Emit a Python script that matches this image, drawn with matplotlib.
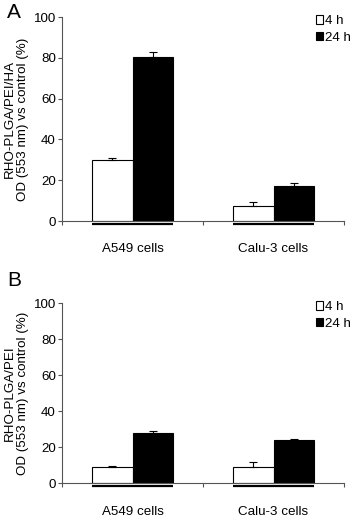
import matplotlib
matplotlib.use('Agg')
import matplotlib.pyplot as plt
import matplotlib.transforms as mtransforms
from matplotlib.patches import Patch
import numpy as np

plt.rcParams['font.family'] = ['Liberation Sans', 'DejaVu Sans']

###### Data ######
categories = ['A549 cells', 'Calu-3 cells']
series = ['4 h', '24 h']

a_4h = [30.0, 7.4]
a_4h_err = [1.0, 2.0]
a_24h = [80.5, 17.3]
a_24h_err = [2.2, 1.5]
a_ylabel = 'RHO-PLGA/PEI/HA\nOD (553 nm) vs control (%)'

b_4h = [9.0, 9.0]
b_4h_err = [0.8, 2.6]
b_24h = [28.0, 24.3]
b_24h_err = [0.9, 0.3]
b_ylabel = 'RHO-PLGA/PEI\nOD (553 nm) vs control (%)'

yticks = [0, 20, 40, 60, 80, 100]
##################

W, H = 358, 526
fig = plt.figure(figsize=(W / 100, H / 100), dpi=100)

FS = 9.6
width = 0.29


def panel(ax, v4, e4, v24, e24, ylabel, letter, letter_y, leg_y):
    x = np.arange(len(categories)) + 0.5
    ax.bar(x - width / 2, v4, width, color='white', edgecolor='black', linewidth=0.8)
    ax.bar(x + width / 2, v24, width, color='black', edgecolor='black', linewidth=0.8)
    ax.errorbar(x - width / 2, v4, yerr=[np.zeros(len(e4)), e4], fmt='none',
                ecolor='black', elinewidth=0.8, capsize=3.2, capthick=0.8)
    ax.errorbar(x + width / 2, v24, yerr=[np.zeros(len(e24)), e24], fmt='none',
                ecolor='black', elinewidth=0.8, capsize=3.2, capthick=0.8)

    # underline beneath each bar group
    trans = mtransforms.blended_transform_factory(ax.transData, ax.transAxes)
    off = mtransforms.ScaledTranslation(0, -3 / 100, fig.dpi_scale_trans)
    for xi in x:
        ax.plot([xi - width, xi + width], [0, 0], color='black', lw=1.6,
                transform=trans + off, clip_on=False, solid_capstyle='butt')

    ax.set_xlim(0, len(categories))
    ax.set_ylim(0, 100)
    ax.set_yticks(yticks)
    ax.set_xticks([0, 1, 2])
    ax.set_xticklabels([])
    ax.set_xticks(x, minor=True)
    ax.set_xticklabels(categories, minor=True, fontsize=FS)
    ax.tick_params(axis='x', which='minor', length=0, pad=16)
    ax.tick_params(axis='both', which='major', direction='out', length=3,
                   width=0.8, color='#555555', labelsize=FS, pad=1.5)
    for s in ['top', 'right']:
        ax.spines[s].set_visible(False)
    for s in ['left', 'bottom']:
        ax.spines[s].set_color('#555555')
        ax.spines[s].set_linewidth(0.8)
    ax.set_ylabel(ylabel, fontsize=FS, labelpad=3, linespacing=1.15)

    fig.text(7 / W, 1 - letter_y / H, letter, fontsize=15, va='center', ha='left')
    handles = [Patch(facecolor='white', edgecolor='black', linewidth=0.8),
               Patch(facecolor='black', edgecolor='black', linewidth=0.8)]
    fig.legend(handles, series, loc='upper left', bbox_to_anchor=(316 / W, 1 - leg_y / H),
               frameon=False, fontsize=FS, handlelength=0.5, handleheight=0.6,
               handletextpad=0.2, labelspacing=0.35, borderaxespad=0, borderpad=0)


axA = fig.add_axes([62 / W, 1 - 221 / H, 282 / W, 204 / H])
panel(axA, a_4h, a_4h_err, a_24h, a_24h_err, a_ylabel, 'A', 12, 15)

axB = fig.add_axes([62 / W, 1 - 483.3 / H, 282 / W, 180 / H])
panel(axB, b_4h, b_4h_err, b_24h, b_24h_err, b_ylabel, 'B', 281, 301)

fig.savefig('out.png', dpi=100)
